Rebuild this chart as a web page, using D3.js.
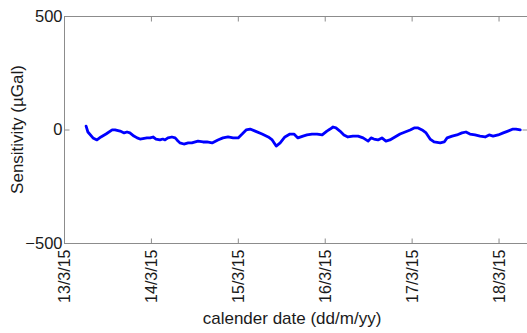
<!DOCTYPE html>
<html>
<head>
<meta charset="utf-8">
<script src="https://cdn.jsdelivr.net/npm/d3@7"></script>
<style>
  html, body { margin: 0; padding: 0; background: #fff; }
  svg { display: block; }
  text { font-family: "Liberation Sans", Arial, sans-serif; fill: #1a1a1a; }
</style>
</head>
<body>
<svg id="chart" width="527" height="333"></svg>
<script>
// Gravimeter sensitivity series, hours since 13/3/15 00:00 and value in µGal
const hours = [6.1, 6.6, 8.0, 9.1, 10.2, 11.6, 13.3, 14.1, 15.5, 16.6, 17.4, 18.2, 19.3, 20.2, 21.0,
  22.9, 23.8, 24.6, 25.4, 26.5, 27.3, 27.9, 28.7, 29.8, 30.7, 31.2, 32.0, 33.1, 34.3, 35.3,
  37.0, 38.4, 39.5, 40.9, 42.5, 43.9, 45.3, 46.7, 48.1, 49.2, 50.3, 51.4, 52.8, 54.7, 56.4,
  57.5, 58.6, 59.7, 61.0, 62.4, 63.5, 64.6, 66.0, 67.1, 68.5, 69.9, 71.3, 72.6, 73.5, 74.3,
  75.1, 76.2, 77.3, 78.4, 79.8, 81.2, 82.6, 84.0, 84.8, 85.6, 86.7, 87.8, 88.9, 90.0, 91.4,
  92.8, 94.2, 95.6, 96.7, 97.8, 98.9, 100.0, 101.1, 102.2, 103.9, 105.0, 105.8, 107.2, 108.5,
  109.9, 111.0, 112.1, 113.5, 114.9, 116.3, 117.4, 118.5, 119.9, 121.3, 122.6, 124.0, 124.8, 126.0];
const sensitivity = [15, -11, -37, -46, -33, -20, -2, -2, -7, -15, -11, -15, -29, -37, -42,
  -37, -37, -33, -42, -46, -42, -46, -37, -33, -37, -46, -59, -64, -59, -59,
  -51, -55, -55, -59, -46, -37, -33, -37, -37, -20, -2, 2, -7, -20, -33,
  -46, -73, -59, -33, -20, -20, -37, -29, -24, -20, -20, -24, -7, 2, 11,
  7, -7, -24, -33, -29, -29, -37, -51, -37, -42, -46, -37, -51, -46, -33,
  -20, -11, -2, 7, 7, -2, -15, -42, -55, -59, -55, -37, -29, -24,
  -15, -11, -20, -24, -29, -33, -24, -29, -24, -15, -7, 2, 2, -2];

const xTickLabels = ["13/3/15", "14/3/15", "15/3/15", "16/3/15", "17/3/15", "18/3/15"];
const yTicks = [-500, 0, 500];
const xTitle = "calender date (dd/m/yy)";
const yTitle = "Sensitivity (\u00b5Gal)";

const start = new Date(2015, 2, 13, 0, 0);
const dates = hours.map(h => new Date(start.getTime() + h * 3600e3));
const data = dates.map((d, i) => ({ date: d, value: sensitivity[i] }));
const tickDates = xTickLabels.map((_, i) => new Date(2015, 2, 13 + i));

const plotLeft = 64, plotRight = 527.5, plotTop = 16, plotBottom = 243;
const svg = d3.select("#chart");

const x = d3.scaleTime()
  .domain([start, new Date(2015, 2, 18, 8, 0)])
  .range([plotLeft, plotRight]);
const y = d3.scaleLinear().domain([-500, 500]).range([plotBottom, plotTop]);

const axisColor = "#8c8c8c";

// Frame lines
const frame = svg.append("g").attr("stroke", axisColor).attr("stroke-width", 1).attr("fill", "none");
frame.append("line").attr("x1", plotLeft + 0.5).attr("x2", plotLeft + 0.5).attr("y1", plotTop).attr("y2", plotBottom);
frame.append("line").attr("x1", plotLeft).attr("x2", plotRight).attr("y1", plotTop + 0.5).attr("y2", plotTop + 0.5);
frame.append("line").attr("x1", plotLeft).attr("x2", plotRight).attr("y1", plotBottom + 0.5).attr("y2", plotBottom + 0.5);
frame.append("line").attr("x1", plotRight).attr("x2", plotRight).attr("y1", plotTop).attr("y2", plotBottom);

// Bottom axis: inward ticks, rotated date labels
const xAxis = d3.axisBottom(x)
  .tickValues(tickDates)
  .tickFormat((d, i) => xTickLabels[i])
  .tickSizeInner(-5).tickSizeOuter(0).tickPadding(6);
const gx = svg.append("g").attr("transform", `translate(0,${plotBottom + 0.5})`).call(xAxis);
gx.select(".domain").remove();
gx.selectAll(".tick line").attr("stroke", axisColor);
gx.selectAll(".tick text")
  .attr("transform", "rotate(-90)")
  .attr("x", -6).attr("y", 0).attr("dy", "0.35em")
  .attr("text-anchor", "end")
  .style("font-size", "16px")
  .style("font-family", "'Liberation Sans', Arial, sans-serif")
  .attr("fill", "#1a1a2a");

// Top axis ticks (no labels)
const gxt = svg.append("g").attr("transform", `translate(0,${plotTop + 0.5})`)
  .call(d3.axisTop(x).tickValues(tickDates).tickFormat("").tickSizeInner(-5).tickSizeOuter(0));
gxt.select(".domain").remove();
gxt.selectAll(".tick line").attr("stroke", axisColor);

// Left axis
const yAxis = d3.axisLeft(y).tickValues(yTicks).tickFormat(d3.format("d"))
  .tickSizeInner(-5).tickSizeOuter(0).tickPadding(3);
const gy = svg.append("g").attr("transform", `translate(${plotLeft + 0.5},0)`).call(yAxis);
gy.select(".domain").remove();
gy.selectAll(".tick line").attr("stroke", axisColor);
gy.selectAll(".tick text")
  .attr("x", -2)
  .style("font-size", "16.5px")
  .style("font-family", "'Liberation Sans', Arial, sans-serif")
  .attr("fill", "#1a1a1a");

// Right axis ticks (no labels)
const gyr = svg.append("g").attr("transform", `translate(${plotRight},0)`)
  .call(d3.axisRight(y).tickValues(yTicks).tickFormat("").tickSizeInner(-5).tickSizeOuter(0));
gyr.select(".domain").remove();
gyr.selectAll(".tick line").attr("stroke", axisColor);

// Sensitivity trace
const line = d3.line().x(d => x(d.date)).y(d => y(d.value)).curve(d3.curveLinear);
svg.append("path")
  .datum(data)
  .attr("fill", "none")
  .attr("stroke", "#0000ff")
  .attr("stroke-width", 2.8)
  .attr("stroke-linejoin", "round")
  .attr("stroke-linecap", "round")
  .attr("d", line);

// Axis titles
svg.append("text")
  .attr("x", 292).attr("y", 324)
  .attr("text-anchor", "middle")
  .style("font-size", "17px")
  .text(xTitle);

svg.append("text")
  .attr("transform", `translate(23,${(plotTop + plotBottom) / 2}) rotate(-90)`)
  .attr("text-anchor", "middle")
  .style("font-size", "17px")
  .text(yTitle);
</script>
</body>
</html>
